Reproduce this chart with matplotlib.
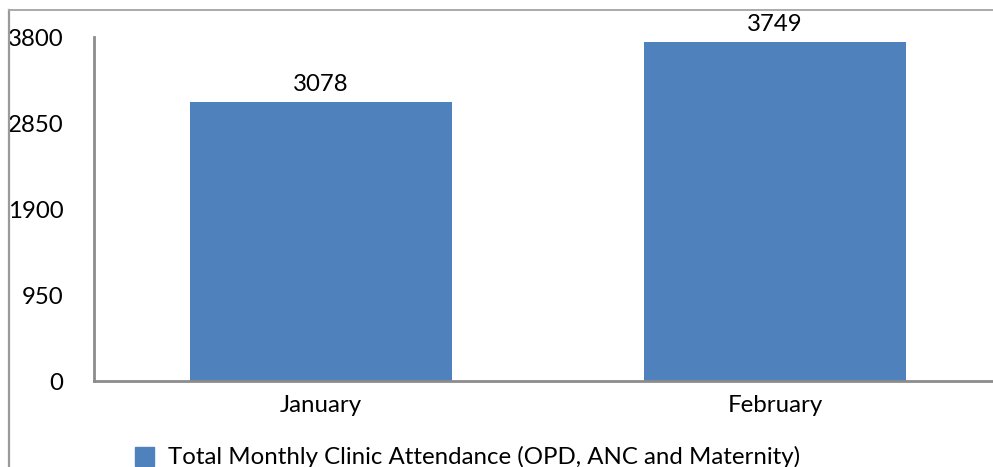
import matplotlib
matplotlib.use("Agg")
import matplotlib.pyplot as plt
from matplotlib.lines import Line2D
from matplotlib.patches import Rectangle

categories = ["January", "February"]
values = [3078, 3749]
yticks = [0, 950, 1900, 2850, 3800]
series_name = "Total Monthly Clinic Attendance (OPD, ANC and Maternity)"

plt.rcParams['font.family'] = ['Lato', 'DejaVu Sans']
W, H = 993, 467
FS = 17.3
fig = plt.figure(figsize=(W/100, H/100), dpi=100)
ax = fig.add_axes([94/W, (H-381)/H, (1002-94)/W, (381-37)/H])

color = "#4F81BD"
x = list(range(len(categories)))
bars = ax.bar(x, values, width=0.577, color=color)
ax.set_xlim(-0.5, 1.5)
ax.set_ylim(0, 3800)
ax.set_yticks(yticks)
ax.set_yticklabels([str(v) for v in yticks], fontsize=FS)
ax.set_xticks(x)
ax.set_xticklabels(categories, fontsize=FS)
ax.tick_params(axis='y', length=0, pad=22)
ax.tick_params(axis='x', length=0, pad=10)
for s in ["top", "right"]:
    ax.spines[s].set_visible(False)
for s in ["left", "bottom"]:
    ax.spines[s].set_color("#8c8c8c")
    ax.spines[s].set_linewidth(2)

for xi, v in zip(x, values):
    ax.annotate(str(v), (xi, v), xytext=(0, 5), textcoords="offset points",
                ha="center", va="bottom", fontsize=FS)

# outer frame (top and left)
fig.add_artist(Line2D([8.5/W, 8.5/W], [0, (H-9.5)/H], color="#9a9a9a", lw=1.6, transform=fig.transFigure))
fig.add_artist(Line2D([8.5/W, 1], [(H-9.5)/H, (H-9.5)/H], color="#aaaaaa", lw=1.4, transform=fig.transFigure))

# legend
fig.add_artist(Rectangle((135/W, (H-466)/H), 19/W, 19/H, color=color, transform=fig.transFigure))
fig.text(168/W, (H-457)/H, series_name, fontsize=FS, va="center", ha="left")

fig.savefig("out.png", dpi=100)
